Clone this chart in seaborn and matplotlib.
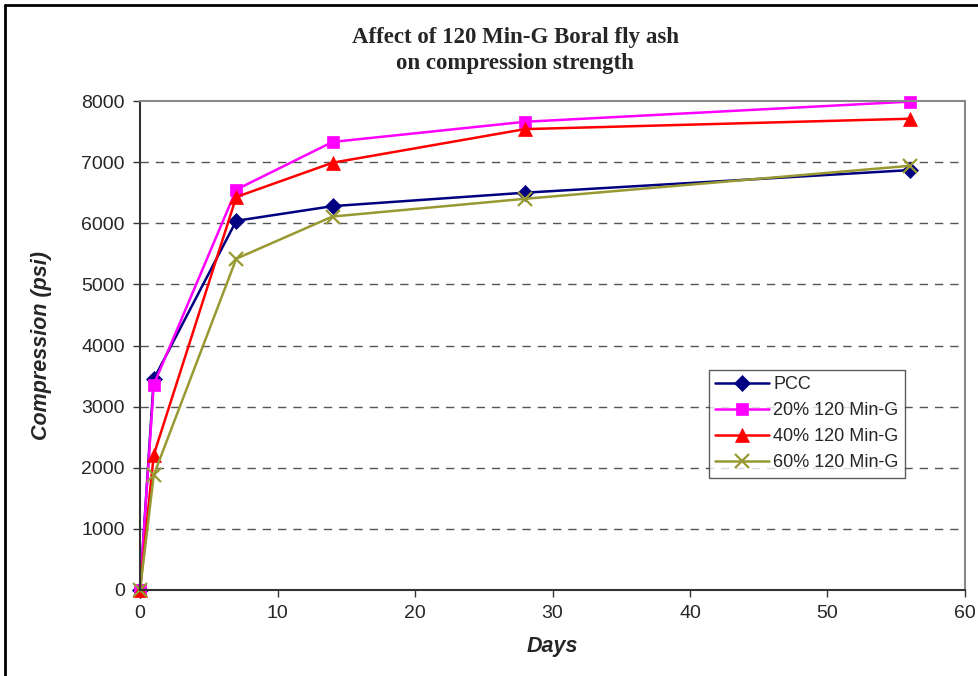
import matplotlib
matplotlib.use("Agg")
import matplotlib.pyplot as plt
import seaborn as sns
import pandas as pd
from matplotlib.lines import Line2D

days = [0, 1, 7, 14, 28, 56]
pcc = [0, 3450, 6040, 6280, 6500, 6870]
g20 = [0, 3360, 6550, 7330, 7660, 7990]
g40 = [0, 2210, 6430, 6990, 7540, 7710]
g60 = [0, 1880, 5420, 6110, 6400, 6940]
series_names = ["PCC", "20% 120 Min-G", "40% 120 Min-G", "60% 120 Min-G"]
x_ticks = [0, 10, 20, 30, 40, 50, 60]
y_ticks = [0, 1000, 2000, 3000, 4000, 5000, 6000, 7000, 8000]

rows = []
for name, vals in zip(series_names, [pcc, g20, g40, g60]):
    for d, v in zip(days, vals):
        rows.append({"Days": d, "Compression": v, "Series": name})
df = pd.DataFrame(rows)

sns.set_theme(style="white")
plt.rcParams['font.family'] = ['Liberation Sans', 'DejaVu Sans']

colors = {"PCC": "#000080", "20% 120 Min-G": "#FF00FF",
          "40% 120 Min-G": "#FF0000", "60% 120 Min-G": "#999933"}
markers = {"PCC": "D", "20% 120 Min-G": "s", "40% 120 Min-G": "^", "60% 120 Min-G": "x"}
msizes = {"PCC": 8, "20% 120 Min-G": 8.5, "40% 120 Min-G": 10.5, "60% 120 Min-G": 10}

fig = plt.figure(figsize=(9.79, 6.76), dpi=100)
ax = fig.add_axes([140/979, (676-590)/676, (965-140)/979, (590-101)/676])

for name in series_names:
    sub = df[df["Series"] == name]
    sns.lineplot(data=sub, x="Days", y="Compression", ax=ax, color=colors[name],
                 marker=markers[name], markersize=msizes[name], linewidth=1.8,
                 markeredgecolor=colors[name], markeredgewidth=1.6 if markers[name] == "x" else 0.5,
                 label=name, legend=False)

ax.set_xlim(0, 60)
ax.set_ylim(0, 8000)
ax.set_xticks(x_ticks)
ax.set_yticks(y_ticks)
ax.tick_params(axis="both", labelsize=14, direction="out", length=5, width=1,
               color="#333333", pad=6, left=True, bottom=True)
for ytk in y_ticks[1:-1]:
    ax.axhline(ytk, color="#555555", linestyle=(0, (6, 5)), linewidth=1, zorder=0)
ax.set_xlabel("Days", fontsize=15.5, fontweight="bold", fontstyle="italic", labelpad=10)
ax.set_ylabel("Compression (psi)", fontsize=15.5, fontweight="bold", fontstyle="italic", labelpad=21)

for side in ["top", "right"]:
    ax.spines[side].set_color("#888888")
    ax.spines[side].set_linewidth(1.5)
for side in ["left", "bottom"]:
    ax.spines[side].set_color("#333333")
    ax.spines[side].set_linewidth(1.5)
for ln in ax.lines:
    ln.set_clip_on(False)

handles = [Line2D([0], [0], color=colors[n], marker=markers[n], markersize=msizes[n],
                  markeredgecolor=colors[n], markeredgewidth=1.6 if markers[n] == "x" else 0.5,
                  linewidth=1.8) for n in series_names]
leg = ax.legend(handles, series_names, loc="upper left", bbox_to_anchor=(709/979, 1 - 370/676),
                bbox_transform=fig.transFigure, fontsize=13, frameon=True, fancybox=False,
                edgecolor="#333333", borderpad=0.35, labelspacing=0.5, handlelength=3.0,
                handletextpad=0.2, borderaxespad=0)
leg.get_frame().set_linewidth(1)

fig.text(515/979, 1 - 38/676, "Affect of 120 Min-G Boral fly ash", ha="center", va="center",
         fontsize=16.5, fontweight="bold", family=["Liberation Serif", "DejaVu Serif"])
fig.text(515/979, 1 - 64/676, "on compression strength", ha="center", va="center",
         fontsize=16.5, fontweight="bold", family=["Liberation Serif", "DejaVu Serif"])

fig.add_artist(Line2D([5/979, 5/979], [0, 1 - 5/676], transform=fig.transFigure,
                      color="black", linewidth=2))
fig.add_artist(Line2D([5/979, 1], [1 - 5/676, 1 - 5/676], transform=fig.transFigure,
                      color="black", linewidth=2))

fig.savefig("out.png", dpi=100)
